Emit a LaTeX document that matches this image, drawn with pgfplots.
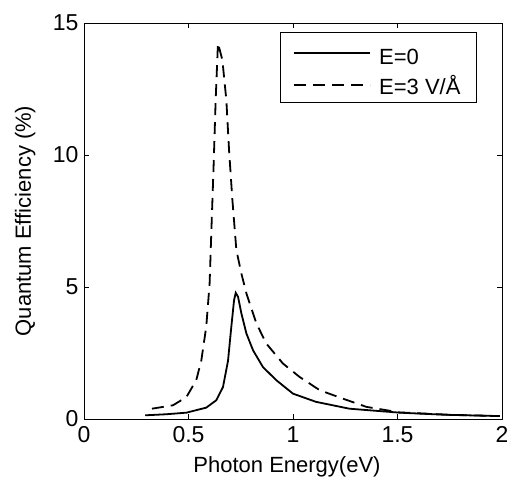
\documentclass[border=0pt]{standalone}
\usepackage{fontspec}
\setmainfont{Liberation Sans}
\usepackage{pgfplots}
\pgfplotsset{compat=1.18}

\begin{document}
\begin{tikzpicture}
\begin{axis}[
  scale only axis,
  width=418pt, height=396pt,
  xmin=0, xmax=2, ymin=0, ymax=15,
  xtick={0,0.5,1,1.5,2},
  ytick={0,5,10,15},
  tick align=inside,
  major tick length=5pt,
  tick style={black, line width=0.8pt},
  axis line style={line width=0.8pt},
  /pgf/number format/assume math mode=true,
  tick label style={font=\fontsize{23}{27}\selectfont},
  label style={font=\fontsize{22}{26}\selectfont, inner sep=0pt},
  xticklabel style={yshift=-4pt},
  yticklabel style={xshift=-2pt},
  xlabel={Photon Energy(eV)},
  ylabel={Quantum Efficiency (\%)},
  xlabel style={at={(axis description cs:0.5,0)}, anchor=base, yshift=-54pt, xshift=-6pt},
  ylabel style={at={(axis description cs:0,0.5)}, anchor=base, yshift=53pt},
  legend style={at={(0.940,0.977)}, anchor=north east,
    draw=black, line width=0.8pt, inner xsep=0pt, inner ysep=5pt,
    font=\fontsize{22}{26}\selectfont, row sep=5pt},
  legend cell align=left,
  legend image code/.code={\path[draw=none] (-14pt,0pt) -- (83pt,0pt);
    \draw[#1] (0pt,0pt) -- (76pt,0pt);},
]
\coordinate (sw) at (rel axis cs:0,0);
\coordinate (ne) at (rel axis cs:1,1);
\addplot[black, line width=1.8pt] coordinates {
(0.293,0.14)(0.394,0.18)(0.49,0.24)(0.585,0.43)(0.633,0.71)(0.665,1.21)
(0.689,2.2)(0.705,3.5)(0.718,4.5)(0.726,4.78)(0.737,4.63)(0.753,4.0)
(0.777,3.24)(0.809,2.6)(0.856,1.97)(0.92,1.47)(1.0,0.96)(1.11,0.65)
(1.27,0.39)(1.51,0.24)(1.73,0.16)(1.99,0.11)
};
\addlegendentry{\rule{0pt}{25pt}E=0}
\addplot[black, line width=1.8pt, dash pattern=on 12pt off 7pt] coordinates {
(0.325,0.39)(0.426,0.52)(0.49,0.83)(0.537,1.47)(0.561,2.2)(0.585,3.5)
(0.601,5.13)(0.609,7.03)(0.620,9.56)(0.630,12.09)(0.641,14.24)(0.662,13.6)
(0.681,12.09)(0.694,10.19)(0.71,8.3)(0.729,6.4)(0.753,5.51)(0.777,4.76)
(0.825,3.62)(0.872,2.86)(0.952,2.1)(1.032,1.59)(1.128,1.09)(1.239,0.77)
(1.351,0.46)(1.51,0.25)(1.75,0.16)(1.99,0.11)
};
\addlegendentry{E=3 V/Å\hspace*{14pt}}
\end{axis}
\pgfresetboundingbox
\path[use as bounding box] ([shift={(-84pt,-58pt)}]sw) rectangle ([shift={(5pt,23pt)}]ne);
\end{tikzpicture}
\end{document}
